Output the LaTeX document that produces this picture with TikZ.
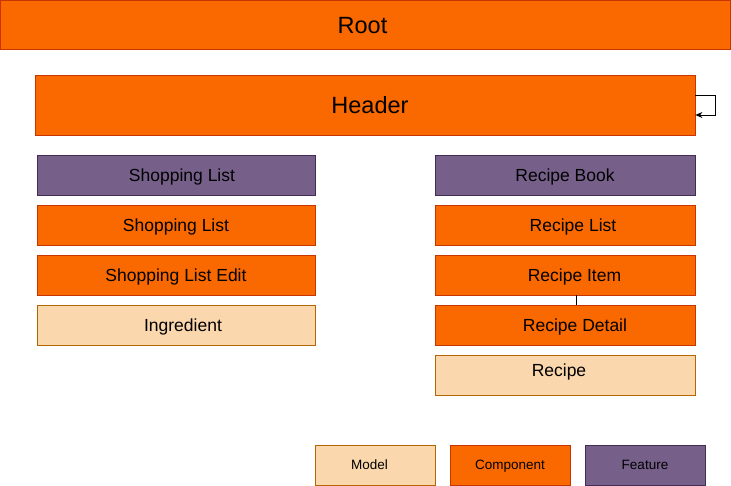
\documentclass[tikz,border=0pt]{standalone}
\usepackage{fontspec}
\setmainfont{Liberation Sans}
\usetikzlibrary{arrows.meta}
\definecolor{compfill}{HTML}{FA6800}
\definecolor{compline}{HTML}{C73500}
\definecolor{featfill}{HTML}{76608A}
\definecolor{featline}{HTML}{432D57}
\definecolor{modelfill}{HTML}{FAD7AC}
\definecolor{modelline}{HTML}{B46504}
\begin{document}
\begin{tikzpicture}[x=1pt,y=-1pt,
                    box/.style={draw,line width=0.8pt,inner sep=0pt,text height=12.5pt,text depth=0pt,font=\fontsize{17.5}{20}\selectfont},
                    comp/.style={box,fill=compfill,draw=compline},
                    feat/.style={box,fill=featfill,draw=featline},
                    model/.style={box,fill=modelfill,draw=modelline},
                    leftbox/.style={minimum width=278pt,minimum height=40pt},
                    rightbox/.style={minimum width=260pt,minimum height=40pt},
                    big/.style={text height=16.8pt,font=\fontsize{23.5}{28}\selectfont},
                    legend/.style={minimum width=120pt,minimum height=40pt,text height=9.7pt,font=\fontsize{13.5}{16}\selectfont},
                    nudgeright/.style={execute at begin node={\hspace*{#1}}},
                    nudgeleft/.style={execute at end node={\hspace*{#1}}}]
                \useasboundingbox (0,0) rectangle (731,486);
                % top level
                \node[comp,big,minimum width=730pt,minimum height=49pt,nudgeleft=6pt] (root) at (365.5,25) {Root};
                \node[comp,big,minimum width=660pt,minimum height=60pt,nudgeright=10pt] (header) at (365,105) {Header};
                % shopping list feature
                \node[feat,leftbox,nudgeright=12pt] (shopfeat) at (176,175) {Shopping List};
                \node[comp,leftbox] (shoplist) at (176,225) {Shopping List};
                \node[comp,leftbox] (shopedit) at (176,275) {Shopping List Edit};
                \node[model,leftbox,nudgeright=14pt] (ingredient) at (176,325) {Ingredient};
                % recipe book feature
                \node[feat,rightbox] (recipefeat) at (565,175) {Recipe Book};
                \node[comp,rightbox,nudgeright=16pt] (recipelist) at (565,225) {Recipe List};
                \node[comp,rightbox,nudgeright=19pt] (recipeitem) at (565,275) {Recipe Item};
                \node[comp,rightbox,nudgeright=20pt] (recipedetail) at (565,325) {Recipe Detail};
                \node[model,rightbox,text depth=10pt,nudgeleft=12pt] (recipe) at (565,375) {Recipe};
                % legend
                \node[model,legend,nudgeleft=11pt] (lmodel) at (375,465) {Model};
                \node[comp,legend] (lcomp) at (510,465) {Component};
                \node[feat,legend] (lfeat) at (645,465) {Feature};
                % connectors
                \draw[line width=0.8pt,-{Stealth[length=7pt,width=6pt]}] (header.east |- 0,95) -- ++(20,0) |- (header.east |- 0,115);
                \draw[line width=0.6pt] (recipeitem.south -| 576,0) -- (recipedetail.north -| 576,0);
\end{tikzpicture}
\end{document}
